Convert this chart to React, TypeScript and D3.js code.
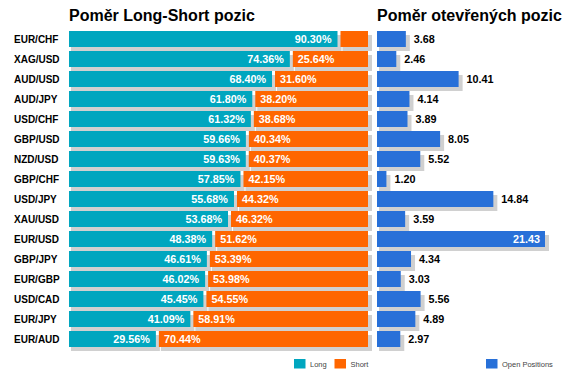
import React from "react";
import * as d3 from "d3";

const categories = ["EUR/CHF","XAG/USD","AUD/USD","AUD/JPY","USD/CHF","GBP/USD","NZD/USD","GBP/CHF","USD/JPY","XAU/USD","EUR/USD","GBP/JPY","EUR/GBP","USD/CAD","EUR/JPY","EUR/AUD"];
const longValues = [90.30,74.36,68.40,61.80,61.32,59.66,59.63,57.85,55.68,53.68,48.38,46.61,46.02,45.45,41.09,29.56];
const shortValues = [9.70,25.64,31.60,38.20,38.68,40.34,40.37,42.15,44.32,46.32,51.62,53.39,53.98,54.55,58.91,70.44];
const openValues = [3.68,2.46,10.41,4.14,3.89,8.05,5.52,1.20,14.84,3.59,21.43,4.34,3.03,5.56,4.89,2.97];

const titleLeft = "Poměr Long-Short pozic";
const titleRight = "Poměr otevřených pozic";
const legendLabels = ["Long", "Short", "Open Positions"];

const C_LONG = "#00a6bf";
const C_SHORT = "#ff6600";
const C_OPEN = "#2870d8";
const C_SHADOW = "#d0d0d0";
const FONT = "Liberation Sans, Arial, sans-serif";

export default function App() {
  const W = 573, H = 380;
  const y = d3.scaleBand<string>().domain(categories).range([29, 349]).paddingInner(0.2).paddingOuter(0.1);
  const bw = y.bandwidth();
  const xPct = d3.scaleLinear().domain([0, 100]).range([69, 368]);
  const xOpen = d3.scaleLinear().domain([0, 21.43]).range([377, 545]);
  const gap = 1.5;
  const labelW = (s: string) => s.length * 6;

  return (
    <svg width={W} height={H} style={{ position: "absolute", left: 0, top: 0, fontFamily: FONT }}>
      <rect width={W} height={H} fill="#fff" />
      <text x={69} y={21} fontSize={16} fontWeight="bold" fill="#000">{titleLeft}</text>
      <text x={377} y={21} fontSize={16} fontWeight="bold" fill="#000">{titleRight}</text>
      {categories.map((c, i) => {
        const y0 = y(c)!;
        const b = xPct(longValues[i]);
        const lx0 = xPct(0), lx1 = b - gap;
        const sx0 = b + gap, sx1 = xPct(longValues[i] + shortValues[i]);
        const ox0 = xOpen(0), ox1 = xOpen(openValues[i]);
        const lLab = longValues[i].toFixed(2) + "%";
        const sLab = shortValues[i].toFixed(2) + "%";
        const oLab = openValues[i].toFixed(2);
        const cy = y0 + bw / 2 + 3.7;
        const openInside = ox1 + 8 + labelW(oLab) > W - 4;
        return (
          <g key={c}>
            <text x={14} y={cy} fontSize={10} fontWeight="bold" fill="#000">{c}</text>
            <rect x={lx0 + 2} y={y0 + 4} width={lx1 - lx0 + 2} height={bw} fill={C_SHADOW} />
            <rect x={sx0 + 2} y={y0 + 4} width={sx1 - sx0 + 2} height={bw} fill={C_SHADOW} />
            <rect x={lx0} y={y0} width={lx1 - lx0} height={bw} fill={C_LONG} />
            <rect x={sx0} y={y0} width={sx1 - sx0} height={bw} fill={C_SHORT} />
            {lx1 - lx0 > labelW(lLab) + 10 && (
              <text x={lx1 - 6} y={cy} textAnchor="end" fontSize={10.8} fontWeight="bold" fill="#fff">{lLab}</text>
            )}
            {sx1 - sx0 > labelW(sLab) + 10 && (
              <text x={sx0 + 5} y={cy} fontSize={10.8} fontWeight="bold" fill="#fff">{sLab}</text>
            )}
            <rect x={ox0 + 2} y={y0 + 4} width={ox1 - ox0 + 2} height={bw} fill={C_SHADOW} />
            <rect x={ox0} y={y0} width={ox1 - ox0} height={bw} fill={C_OPEN} />
            {openInside ? (
              <text x={ox1 - 5} y={cy} textAnchor="end" fontSize={10.8} fontWeight="bold" fill="#fff">{oLab}</text>
            ) : (
              <text x={ox1 + 8} y={cy} fontSize={10.8} fontWeight="bold" fill="#000">{oLab}</text>
            )}
          </g>
        );
      })}
      <g fontSize={7.5} fill="#444">
        <rect x={294} y={359} width={11.5} height={9.5} fill={C_LONG} />
        <text x={310} y={366.5}>{legendLabels[0]}</text>
        <rect x={334.5} y={359} width={11.5} height={9.5} fill={C_SHORT} />
        <text x={350.5} y={366.5}>{legendLabels[1]}</text>
        <rect x={486} y={359} width={11.5} height={9.5} fill={C_OPEN} />
        <text x={502} y={366.5}>{legendLabels[2]}</text>
      </g>
    </svg>
  );
}
